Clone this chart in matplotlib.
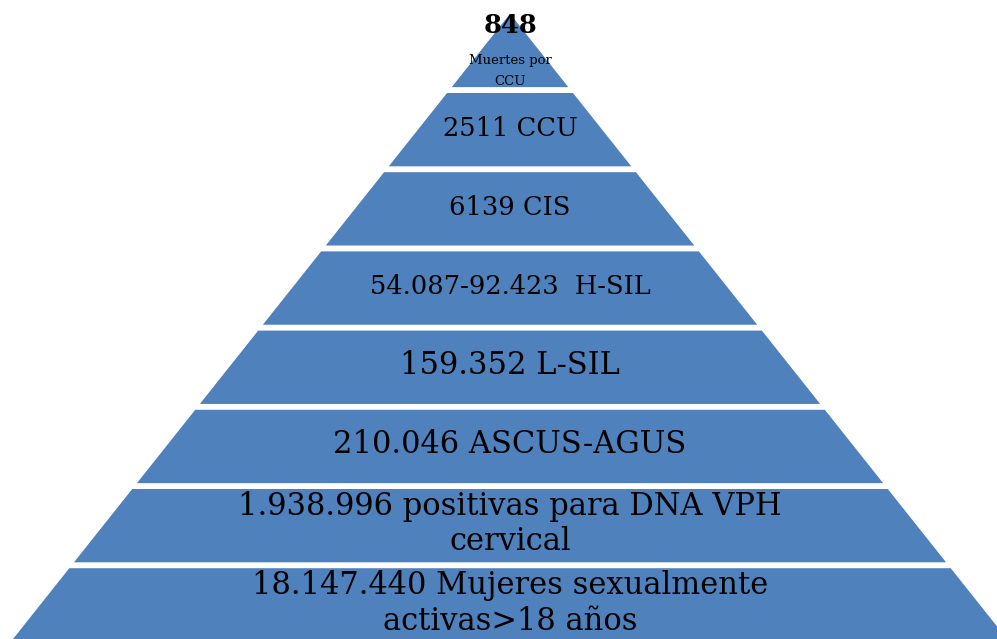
import matplotlib.pyplot as plt
from matplotlib.patches import Polygon

# pyramid levels, top to bottom
labels = [
    "2511 CCU",
    "6139 CIS",
    "54.087-92.423  H-SIL",
    "159.352 L-SIL",
    "210.046 ASCUS-AGUS",
    "1.938.996 positivas para DNA VPH\ncervical",
    "18.147.440 Mujeres sexualmente\nactivas>18 años",
]
top_value = "848"
top_caption = "Muertes por\nCCU"
font_sizes = [18.5, 18.5, 18.5, 22, 22, 22, 22]

fill = "#4F81BD"
slope = 0.795      # half width per unit of depth
height = 0.926     # layer height, rest of each step is the white gap
n_layers = len(labels) + 1

fig = plt.figure(figsize=(9.97, 6.39), dpi=100)
ax = fig.add_axes([0, 0, 1, 1])
ax.set_xlim(-6.44, 6.149)
ax.set_ylim(7.894, -0.174)
ax.axis("off")

for i in range(n_layers):
    y0, y1 = i, i + height
    pts = [(-slope * y0, y0), (slope * y0, y0), (slope * y1, y1), (-slope * y1, y1)]
    ax.add_patch(Polygon(pts, closed=True, facecolor=fill, edgecolor="none"))

serif = "DejaVu Serif"
ax.text(0, height / 2 - 0.31, top_value, ha="center", va="center",
        fontsize=18.5, fontweight="bold", family=serif)
ax.text(0, height / 2 + 0.26, top_caption, ha="center", va="center",
        fontsize=9.5, family=serif, linespacing=1.75)

for i, (lab, fs) in enumerate(zip(labels, font_sizes), start=1):
    ax.text(0, i + height / 2 - 0.02, lab, ha="center", va="center",
            fontsize=fs, family=serif, linespacing=1.2)

fig.savefig("out.png", dpi=100)
